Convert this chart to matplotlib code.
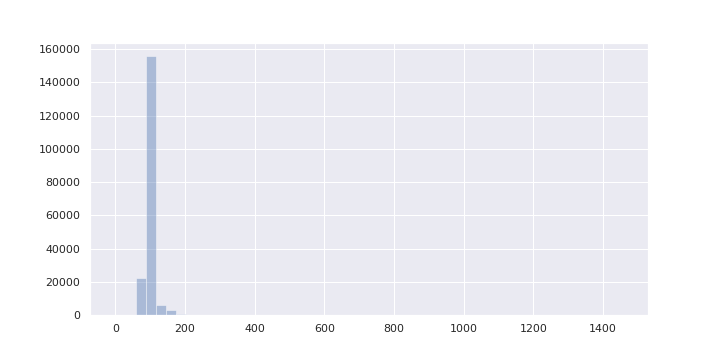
import numpy as np
import matplotlib
matplotlib.use("Agg")
import matplotlib.pyplot as plt
import seaborn as sns

sns.set()

# data range and counts per bin (50 bins)
data_min = 0
data_max = 1456
counts = [0, 0, 22000, 155800, 5800, 2900, 350, 120, 60, 30,
          20, 12, 8, 6, 5, 4, 3, 3, 2, 2,
          2, 1, 1, 1, 1, 1, 1, 1, 1, 1,
          1, 0, 1, 0, 1, 0, 1, 0, 0, 1,
          0, 0, 1, 0, 0, 0, 1, 0, 0, 1]

edges = np.linspace(data_min, data_max, len(counts) + 1)
centers = (edges[:-1] + edges[1:]) / 2

fig, ax = plt.subplots(figsize=(10, 5), dpi=72)
fig.subplots_adjust(left=0.125, right=0.9, bottom=0.125, top=0.88)

ax.hist(centers, bins=edges, weights=counts, color="#4c72b0", alpha=0.4)

fig.savefig("out.png", dpi=72)
